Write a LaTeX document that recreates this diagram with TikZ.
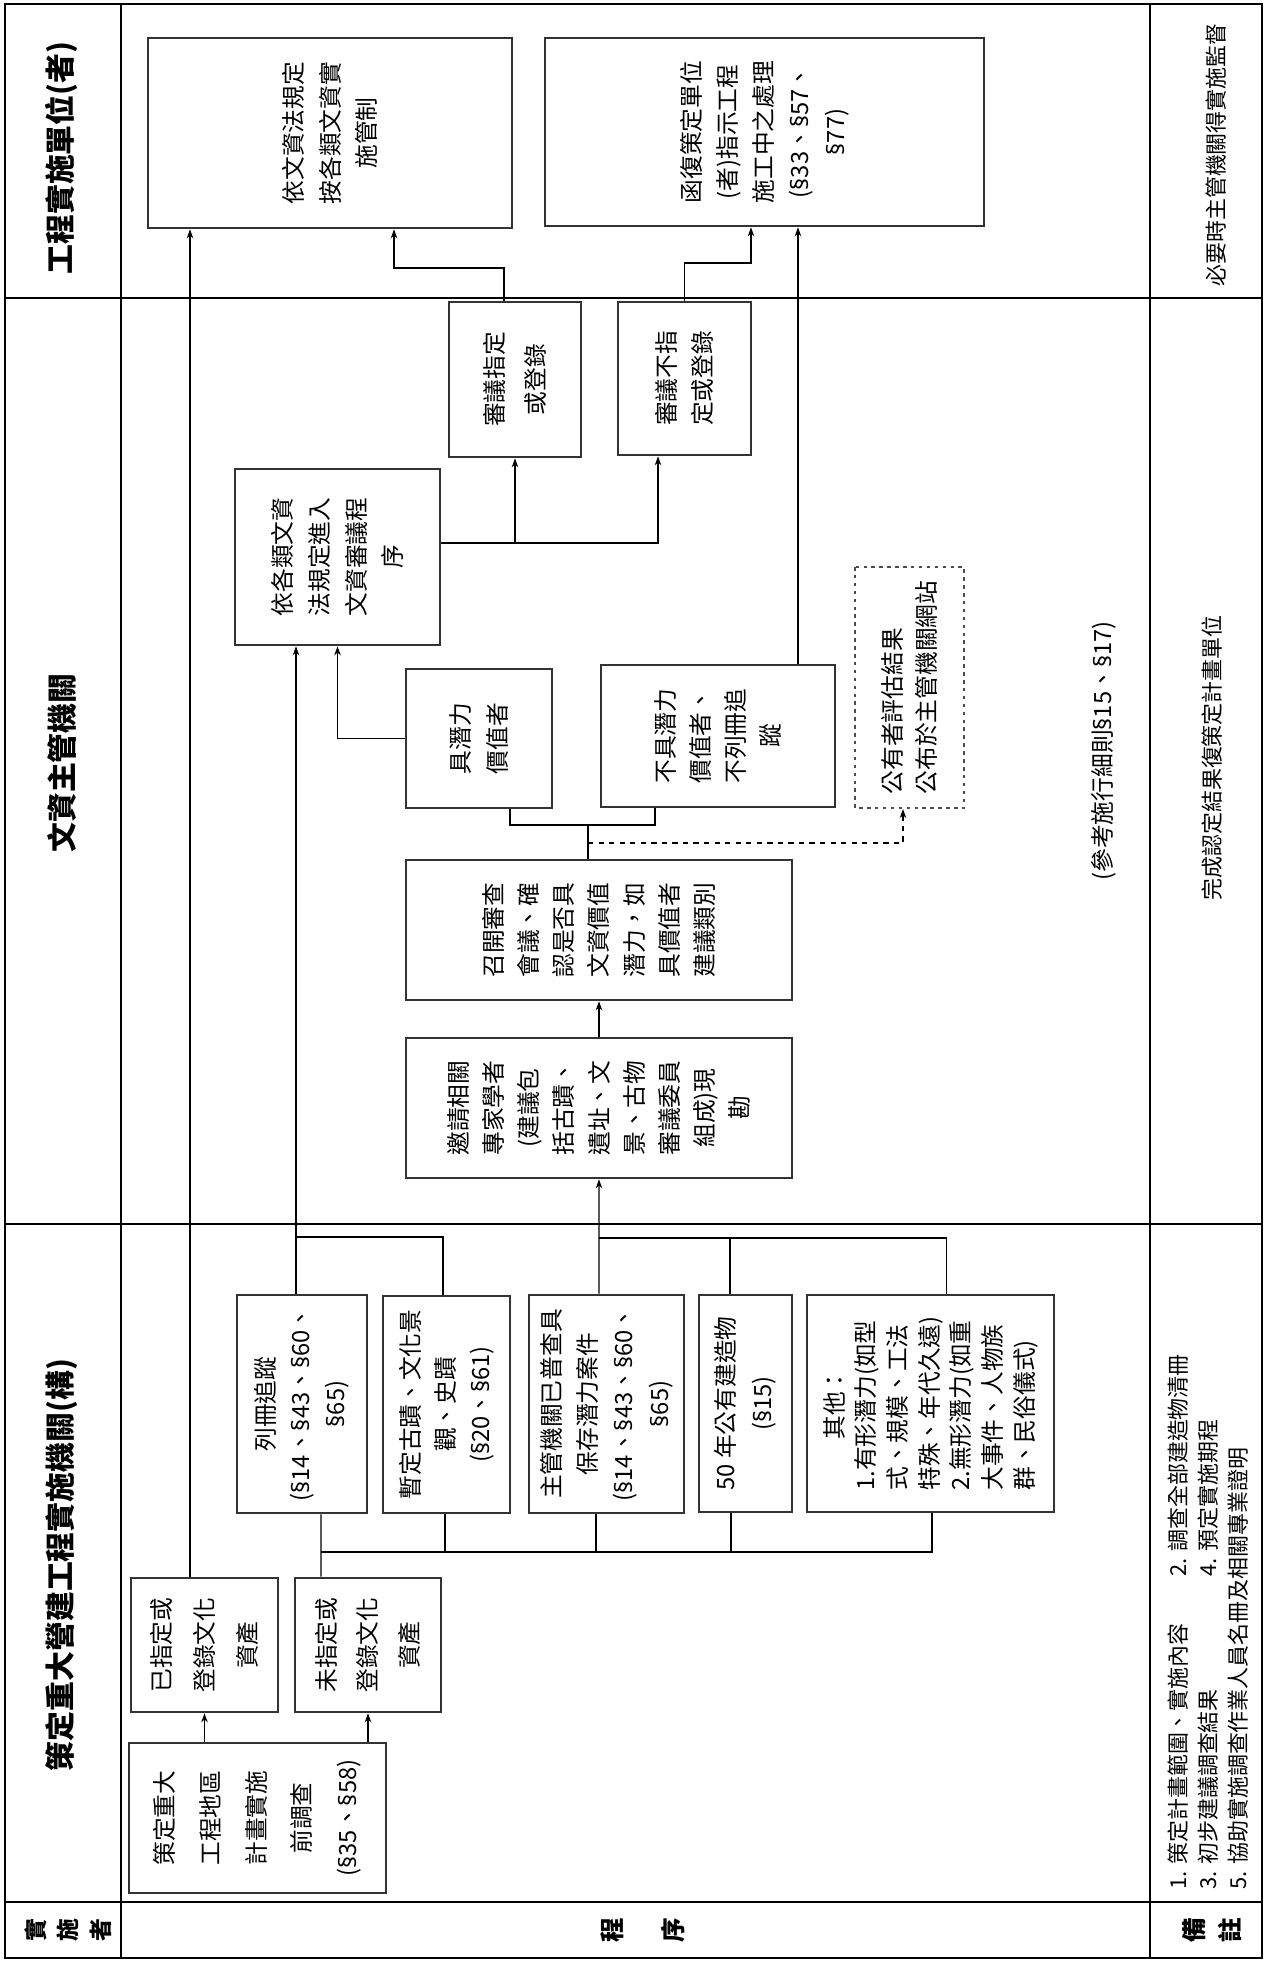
\documentclass[tikz,border=0pt]{standalone}
\usepackage{fontspec}
\setmainfont{Noto Sans CJK TC}
\newfontfamily\sectfont{Noto Sans}
\usetikzlibrary{arrows.meta}

\newcommand{\boxfont}{\fontsize{13.5pt}{20pt}\selectfont}
\newcommand{\lsp}[1]{\fontsize{13.5pt}{#1}\selectfont}
\newcommand{\secsign}{{\sectfont §}}

\begin{document}
\begin{tikzpicture}[
    x=0.2mm,
    y=-0.2mm,
    >={Stealth[length=1.8mm,width=1.3mm]},
    proc/.style={draw=black!80, line width=1.5pt, rotate=90, inner sep=0pt,
      align=center, font=\boxfont},
    pub/.style={draw=black!70, line width=1.2pt, dash pattern=on 2pt off 2.5pt,
      rotate=90, inner sep=0pt, align=left, font=\boxfont},
    colhead/.style={rotate=90, font=\fontsize{17pt}{20pt}\selectfont\bfseries},
    rowhead/.style={rotate=90, align=center, inner sep=0pt},
    remark/.style={rotate=90, inner sep=0pt, align=left,
      font=\fontsize{12.5pt}{17pt}\selectfont}]
   \useasboundingbox (0,0) rectangle (1265,1965);

   % table frame
   \draw[line width=0.9pt] (5,4) rectangle (1262,1958);
   \draw[line width=0.7pt]
     (121,4) -- (121,1958)   (1150,4) -- (1150,1958)
     (5,298) -- (1262,298)   (5,1224) -- (1262,1224)   (5,1902) -- (1262,1902);

   \node[colhead] (hdExec) at (62,158)  {工程實施單位(者)};
   \node[colhead] (hdAuth) at (62,763)  {文資主管機關};
   \node[colhead] (hdPlan) at (62,1565) {策定重大營建工程實施機關(構)};
   \node[rowhead, font=\fontsize{13pt}{18.6pt}\selectfont\bfseries] (lbExec) at (68,1930) {實\\施\\者};
   \node[rowhead, font=\fontsize{14pt}{34.6pt}\selectfont\bfseries] (lbProc) at (643,1930) {程\\序};
   \node[rowhead, font=\fontsize{14pt}{21pt}\selectfont\bfseries] (lbNote) at (1212,1930) {備\\註};

   \path
     node (control)   at (330,133)     [proc, minimum width=3.8cm,  minimum height=7.28cm, font=\lsp{21pt}]
       {依文資法規定\\按各類文資實\\施管制}
     node (reply)     at (764.5,132)   [proc, minimum width=3.76cm, minimum height=8.78cm, font=\lsp{20.5pt}]
       {函復策定單位\\(者)指示工程\\施工中之處理\\(\secsign33、\secsign57、\\\secsign77)}
     node (decide)    at (515,379.5)   [proc, minimum width=3.1cm,  minimum height=2.64cm, font=\lsp{23pt}]
       {審議指定\\或登錄}
     node (notdecide) at (684.5,378.5) [proc, minimum width=3.06cm, minimum height=2.66cm, font=\lsp{21pt}]
       {審議不指\\定或登錄}
     node (procedure) at (337.5,557)   [proc, minimum width=3.52cm, minimum height=4.1cm,  font=\lsp{21pt}]
       {依各類文資\\法規定進入\\文資審議程\\序}
     node (haspot)    at (479,738.5)   [proc, minimum width=2.78cm, minimum height=2.92cm, font=\lsp{21pt}]
       {具潛力\\價值者}
     node (nopot)     at (718,736)     [proc, minimum width=2.84cm, minimum height=4.68cm]
       {不具潛力\\價值者、\\不列冊追\\蹤}
     node (publish)   at (909.5,687.5) [pub,  minimum width=4.82cm, minimum height=2.18cm, font=\lsp{19pt}]
       {公有者評估結果\\公布於主管機關網站}
     node (review)    at (599,930)     [proc, minimum width=2.8cm,  minimum height=7.72cm]
       {召開審查\\會議、確\\認是否具\\文資價值\\潛力，如\\具價值者\\建議類別}
     node (inspect)   at (599,1108)    [proc, minimum width=2.8cm,  minimum height=7.72cm]
       {邀請相關\\專家學者\\(建議包\\括古蹟、\\遺址、文\\景、古物\\審議委員\\組成)現\\勘}
     node (listed)    at (302,1404)    [proc, minimum width=4.36cm, minimum height=2.6cm]
       {列冊追蹤\\(\secsign14、\secsign43、\secsign60、\\\secsign65)}
     node (provis)    at (446.5,1404.5) [proc, minimum width=4.34cm, minimum height=2.54cm]
       {暫定古蹟、文化景\\觀、史蹟\\(\secsign20、\secsign61)}
     node (surveyed)  at (606.5,1404)  [proc, minimum width=4.36cm, minimum height=3.1cm, font=\lsp{20.5pt}]
       {主管機關已普查具\\保存潛力案件\\(\secsign14、\secsign43、\secsign60、\\\secsign65)}
     node (public50)  at (745.5,1403.5) [proc, minimum width=4.34cm, minimum height=1.86cm, font=\lsp{21pt}]
       {50 年公有建造物\\(\secsign15)}
     node (others)    at (930.5,1403.5) [proc, minimum width=4.34cm, minimum height=4.94cm, align=left, font=\lsp{18pt}]
       {\makebox[7.3em]{其他：}\\1.有形潛力(如型\\式、規模、工法\\特殊、年代久遠)\\2.無形潛力(如重\\大事件、人物族\\群、民俗儀式)}
     node (designated) at (204.5,1645) [proc, minimum width=2.68cm, minimum height=2.94cm, font=\lsp{24.5pt}]
       {已指定或\\登錄文化\\資產}
     node (undesig)   at (368,1645)    [proc, minimum width=2.68cm, minimum height=2.92cm, font=\lsp{23.5pt}]
       {未指定或\\登錄文化\\資產}
     node (survey)    at (257.5,1818)  [proc, minimum width=3.0cm,  minimum height=5.14cm, font=\lsp{26pt}]
       {策定重大\\工程地區\\計畫實施\\前調查\\(\secsign35、\secsign58)};

   \node[remark] (supervise) at (1216,155) {必要時主管機關得實施監督};
   \node[remark] (result)    at (1212,758) {完成認定結果復策定計畫單位};
   \node[remark, font=\fontsize{13.5pt}{17pt}\selectfont] (basis) at (1104,751)
     {(參考施行細則\secsign15、\secsign17)};
   \node[remark, anchor=west] (notes) at (1208,1890)
     {\makebox[6.26cm][l]{1. 策定計畫範圍、實施內容}2. 調查全部建造物清冊\\
      \makebox[6.26cm][l]{3. 初步建議調查結果}4. 預定實施期程\\
      5. 協助實施調查作業人員名冊及相關專業證明};

   \coordinate (cA)   at (394,268);
   \coordinate (cB)   at (751,263);
   \coordinate (jLM)  at (296,1237);
   \coordinate (jNOP) at (599,1238);
   \coordinate (jFG)  at (588,825);
   \coordinate (jH)   at (588,843);
   \coordinate (jQ)   at (321,1552);

   \begin{scope}[line width=0.8pt]
     \draw[->] (survey.east -| designated.west) -- (designated.west);
     \draw[->] (survey.east -| undesig.west) -- (undesig.west);
     \coordinate (dUp) at ([xshift=-2.9mm]designated.east);
     \draw[->] (dUp) -- (dUp |- control.west);

     \draw ([xshift=3.8mm]listed.west) -- ([xshift=-9.4mm]undesig.east);
     \foreach \b/\s in {provis/-0.3mm, surveyed/-2.1mm, public50/-2.9mm, others/0.3mm}
       \draw ([xshift=\s]\b.west) |- (jQ);

     \coordinate (lUp) at ([xshift=-1.2mm]listed.east);
     \draw[->] (lUp) -- (lUp |- procedure.west);
     \draw ([xshift=-0.7mm]provis.east) |- (jLM);

     \draw[->] ([xshift=-1.5mm]surveyed.east) -- (inspect.west);
     \draw ([xshift=-3.1mm]public50.east) |- (jNOP);
     \draw ([xshift=3.2mm]others.east) |- (jNOP);

     \draw[->] (inspect.east) -- (review.west);
     \draw ([xshift=6.2mm]haspot.west) |- (jFG) -| ([xshift=-12.6mm]nopot.west);
     \draw (review.east -| jFG) -- (jFG);
     \draw[dashed, ->] (jH) -| ([xshift=-1.3mm]publish.west);

     \draw[->] (haspot.north) -| (procedure.west);
     \coordinate (eOut) at ([yshift=2.8mm]procedure.south);
     \draw[->] (eOut) -| ([xshift=-5.3mm]notdecide.west);
     \draw[->] (decide.west |- eOut) -- (decide.west);

     \draw[->] ([xshift=-2.2mm]decide.east) |- (cA) -- (cA |- control.west);
     \draw[->] (notdecide.east) |- (cB) -- (cB |- reply.west);
     \coordinate (gUp) at ([xshift=1.6cm]nopot.east);
     \draw[->] (gUp) -- (gUp |- reply.west);
   \end{scope}
\end{tikzpicture}
\end{document}
